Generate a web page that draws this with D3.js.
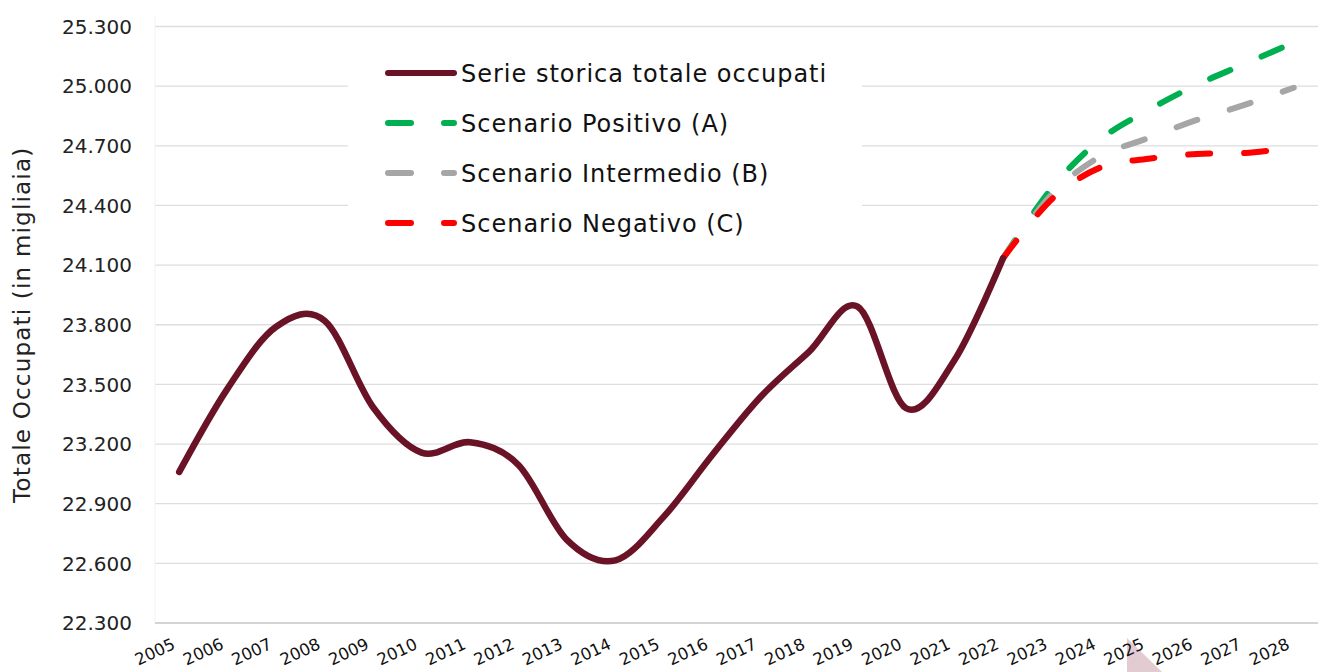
<!DOCTYPE html>
<html>
<head>
<meta charset="utf-8">
<script src="https://cdn.jsdelivr.net/npm/d3@7"></script>
<style>
  body { margin: 0; background: #fff; }
  svg { display: block; font-family: "DejaVu Sans", sans-serif; }
</style>
</head>
<body>
<div id="chart"></div>
<script>
// years on the category axis
let years = ["2005", "2006", "2007", "2008", "2009", "2010", "2011", "2012", "2013", "2014", "2015", "2016",
  "2017", "2018", "2019", "2020", "2021", "2022", "2023", "2024", "2025", "2026", "2027", "2028"]

// historical series 2005-2022 (thousands)
let storica = [23060, 23480, 23790, 23820, 23385, 23157, 23209, 23095, 22718, 22615, 22835, 23145,
  23438, 23665, 23891, 23380, 23623, 24134]

// scenario years and values 2022-2028
let scenarioYears = ["2022", "2023", "2024", "2025", "2026", "2027", "2028"]
let positivo = [24134, 24485, 24730, 24880, 25007, 25113, 25220]
let intermedio = [24134, 24455, 24645, 24739, 24830, 24907, 24992]
let negativo = [24134, 24430, 24590, 24635, 24659, 24664, 24692]

let yTicks = [22300, 22600, 22900, 23200, 23500, 23800, 24100, 24400, 24700, 25000, 25300]

let legendLabels = ["Serie storica totale occupati", "Scenario Positivo (A)", "Scenario Intermedio (B)", "Scenario Negativo (C)"]

let width = 1323, height = 672
let plotLeft = 155, plotRight = 1318, plotTop = 26.5, plotBottom = 623

let svg = d3.select("#chart")
  .append("svg")
  .attr("width", width)
  .attr("height", height)

let x = d3.scaleBand().domain(years).range([plotLeft, plotRight])
let y = d3.scaleLinear().domain([22300, 25300]).range([plotBottom, plotTop])
let cx = d => x(d) + x.bandwidth() / 2

// faint artifact at the bottom of the picture
svg.append("path")
  .attr("d", "M1127,638 L1162,672 L1127,672 Z")
  .attr("fill", "#e2ccd1")

// gridlines
svg.append("g")
  .selectAll("line")
  .data(yTicks.slice(1))
  .enter()
  .append("line")
  .attr("x1", plotLeft)
  .attr("x2", plotRight)
  .attr("y1", d => y(d))
  .attr("y2", d => y(d))
  .attr("stroke", "#dedede")
  .attr("stroke-width", 1.3)

// plot left edge (very faint)
svg.append("line")
  .attr("x1", plotLeft).attr("x2", plotLeft)
  .attr("y1", plotTop - 10).attr("y2", plotBottom)
  .attr("stroke", "#f2f2f2")

// bottom axis line
svg.append("line")
  .attr("x1", plotLeft)
  .attr("x2", plotRight)
  .attr("y1", y(22300))
  .attr("y2", y(22300))
  .attr("stroke", "#d4d4d4")
  .attr("stroke-width", 1.8)

// y tick labels
svg.append("g")
  .selectAll("text")
  .data(yTicks)
  .enter()
  .append("text")
  .attr("x", 132)
  .attr("y", d => y(d))
  .attr("dy", "0.36em")
  .attr("text-anchor", "end")
  .attr("font-size", 20)
  .attr("fill", "#222")
  .text(d => d3.format(",")(d).replace(",", "."))

// y axis title
svg.append("text")
  .attr("transform", "translate(30," + ((plotTop + plotBottom) / 2) + ") rotate(-90)")
  .attr("text-anchor", "middle")
  .attr("font-size", 23)
  .attr("letter-spacing", 1.2)
  .attr("fill", "#222")
  .text("Totale Occupati (in migliaia)")

// x labels, slanted
svg.append("g")
  .selectAll("text")
  .data(years)
  .enter()
  .append("text")
  .attr("transform", d => "translate(" + (cx(d) - 3) + ",648) rotate(-25)")
  .attr("text-anchor", "end")
  .attr("font-size", 16.5)
  .attr("fill", "#111")
  .text(d => d)

let line = d3.line()
  .x(d => cx(d.year))
  .y(d => y(d.value))
  .curve(d3.curveCardinal.tension(0))

let dash = "22,34"

// scenarios (drawn under the historical series)
let scenarios = [
  {values: positivo, color: "#00b050"},
  {values: intermedio, color: "#a6a6a6"},
  {values: negativo, color: "#ff0000"}
]
scenarios.forEach(function(s) {
  svg.append("path")
    .datum(scenarioYears.map((yr, i) => ({year: yr, value: s.values[i]})))
    .attr("d", line)
    .attr("fill", "none")
    .attr("stroke", s.color)
    .attr("stroke-width", 6)
    .attr("stroke-linecap", "round")
    .attr("stroke-dasharray", dash)
})

// historical series
svg.append("path")
  .datum(storica.map((v, i) => ({year: years[i], value: v})))
  .attr("d", line)
  .attr("fill", "none")
  .attr("stroke", "#6a1327")
  .attr("stroke-width", 6.5)
  .attr("stroke-linecap", "round")

// legend box
let legend = svg.append("g")
legend.append("rect")
  .attr("x", 348)
  .attr("y", 48)
  .attr("width", 514)
  .attr("height", 199)
  .attr("fill", "#fff")

let legendColors = ["#6a1327", "#00b050", "#a6a6a6", "#ff0000"]
legendLabels.forEach(function(label, i) {
  let ly = 73 + i * 50
  legend.append("line")
    .attr("x1", 388)
    .attr("x2", 454)
    .attr("y1", ly)
    .attr("y2", ly)
    .attr("stroke", legendColors[i])
    .attr("stroke-width", 6)
    .attr("stroke-linecap", "round")
    .attr("stroke-dasharray", i == 0 ? null : "23,33")
  legend.append("text")
    .attr("x", 461)
    .attr("y", ly)
    .attr("dy", "0.36em")
    .attr("font-size", 24)
    .attr("letter-spacing", 1)
    .attr("fill", "#111")
    .text(label)
})
</script>
</body>
</html>
